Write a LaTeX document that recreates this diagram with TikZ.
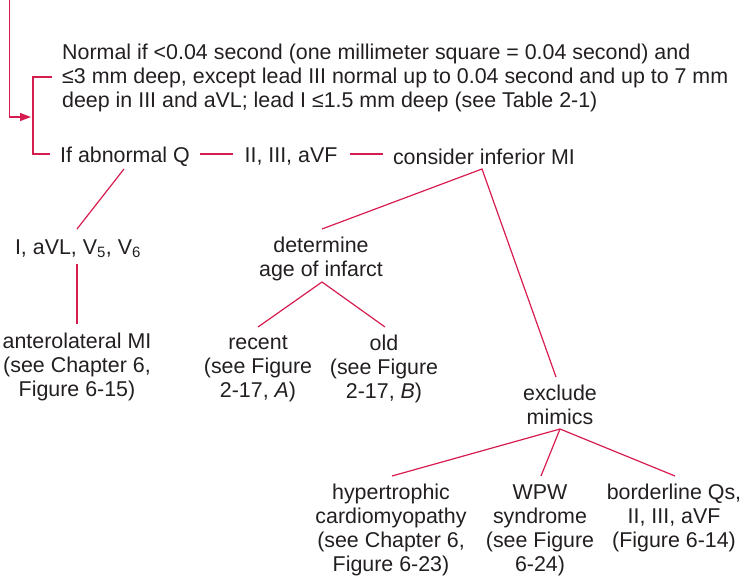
\documentclass[tikz,border=0pt]{standalone}
\usepackage{fontspec}
\setmainfont{Liberation Sans}
\usetikzlibrary{arrows.meta,calc}
\definecolor{lnk}{RGB}{214,28,78}
\definecolor{txt}{RGB}{35,31,32}
\begin{document}
\begin{tikzpicture}[x=1pt,y=-1pt,
  lbl/.style={inner sep=0pt, text=txt, font=\fontsize{21.4}{24}\selectfont, align=center},
  link/.style={draw=lnk, line width=1.2pt}]
\useasboundingbox (0,0) rectangle (744,578);
% nodes
\node[lbl, align=left, anchor=west] (para) at (62,78) {Normal if <0.04 second (one millimeter square = 0.04 second) and\\≤3 mm deep, except lead III normal up to 0.04 second and up to 7 mm\\deep in III and aVL; lead I ≤1.5 mm deep (see Table 2-1)};
\node[lbl] (abnQ) at (125,157) {If abnormal Q};
\node[lbl] (lead2) at (291,157) {II, III, aVF};
\node[lbl] (infMI) at (484,157) {consider inferior MI};
\node[lbl] (lat) at (78,249) {I, aVL, V\textsubscript{5}, V\textsubscript{6}};
\node[lbl] (antMI) at (77,367) {anterolateral MI\\(see Chapter 6,\\Figure 6-15)};
\node[lbl] (age) at (321,259) {determine\\age of infarct};
\node[lbl] (recent) at (258,369) {recent\\(see Figure\\2-17, \textit{A})};
\node[lbl] (old) at (384,369) {old\\(see Figure\\2-17, \textit{B})};
\node[lbl] (excl) at (560,405) {exclude\\mimics};
\node[lbl] (hcm) at (391,530) {hypertrophic\\cardiomyopathy\\(see Chapter 6,\\Figure 6-23)};
\node[lbl] (wpw) at (540,530) {WPW\\syndrome\\(see Figure\\6-24)};
\node[lbl] (bord) at (674,518) {borderline Qs,\\II, III, aVF\\(Figure 6-14)};
% entry arrow and bracket
\coordinate (entry) at (9.5,-1);
\draw[link,-{Triangle[length=11pt,width=8pt]}] (entry) |- ($(para.west)+(-31,39)$);
\draw[link] ($(para.west)+(-10,-1)$) -- ($(para.west)+(-29,-1)$) |- ($(abnQ.west)+(-10,-3)$);
% connectors
\draw[link] ($(abnQ)+(75,-3)$) -- ($(lead2)+(-58,-3)$);
\draw[link] ($(lead2)+(59,-3)$) -- ($(infMI)+(-101,-3)$);
\draw[link] ($(abnQ)+(-1,12)$) -- ($(lat)+(-1,-20)$);
\draw[link] ($(lat)+(-1,15)$) -- ($(antMI)+(0,-43)$);
\draw[link] ($(age)+(1,-30)$) -- ($(infMI)+(-2,12)$) -- ($(excl)+(-4,-28)$);
\draw[link] ($(recent)+(0,-42)$) -- ($(age)+(1,23)$) -- ($(old)+(1,-42)$);
\draw[link] ($(hcm)+(1,-54)$) -- ($(excl)+(0,24)$) -- ($(bord)+(1,-42)$);
\draw[link] ($(excl)+(0,24)$) -- ($(wpw)+(1,-54)$);
\end{tikzpicture}
\end{document}
